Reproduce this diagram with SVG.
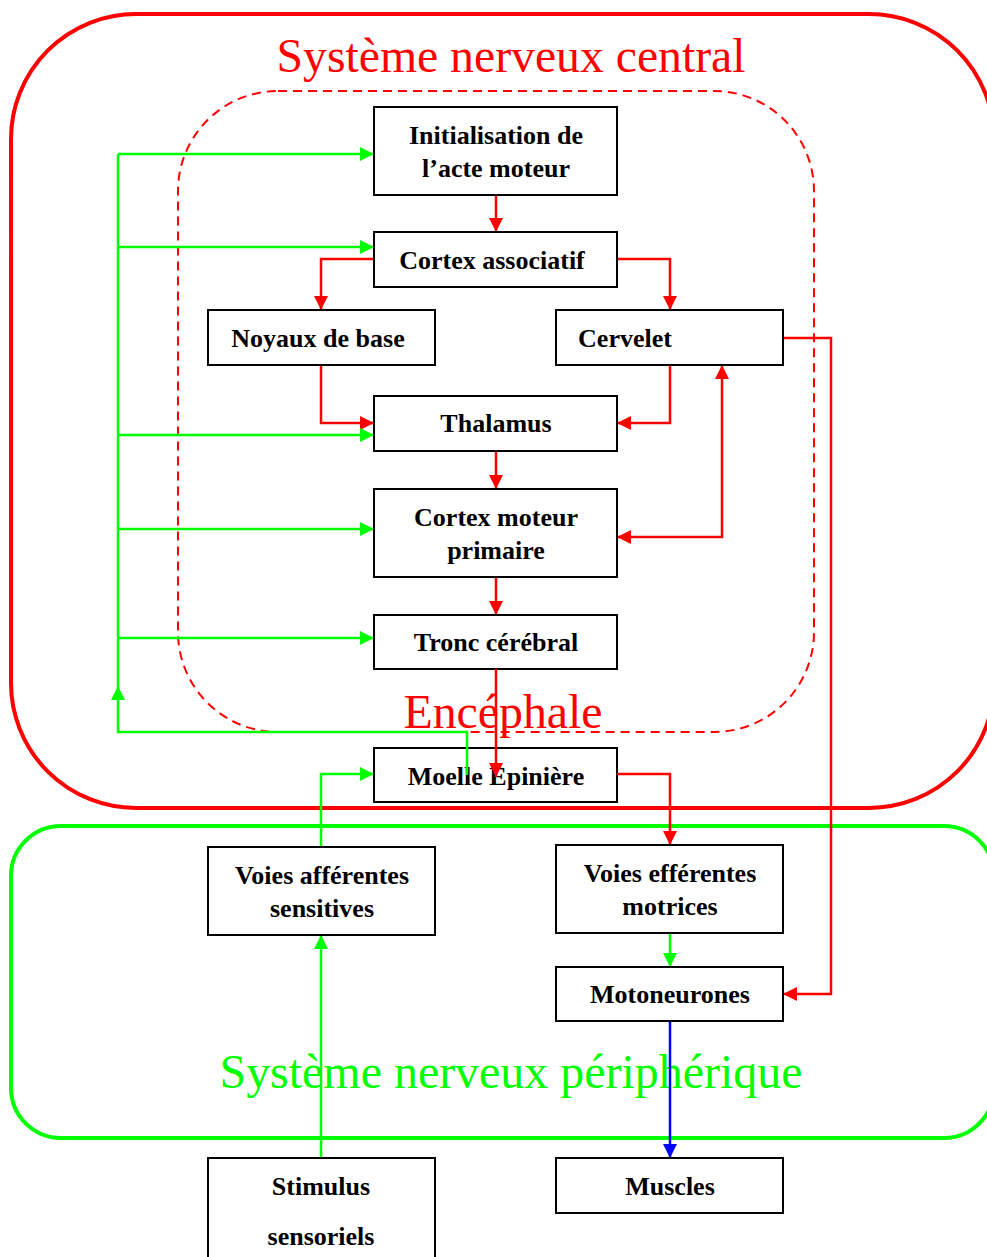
<svg xmlns="http://www.w3.org/2000/svg" width="987" height="1257" viewBox="0 0 987 1257">
<defs>
<marker id="ar" viewBox="0 0 10 10" refX="10" refY="5" markerWidth="14" markerHeight="14" markerUnits="userSpaceOnUse" orient="auto"><path d="M0,0 L10,5 L0,10 Z" fill="#ff0000"/></marker>
<marker id="ars" viewBox="0 0 10 10" refX="10" refY="5" markerWidth="14" markerHeight="14" markerUnits="userSpaceOnUse" orient="auto-start-reverse"><path d="M0,0 L10,5 L0,10 Z" fill="#ff0000"/></marker>
<marker id="ag" viewBox="0 0 10 10" refX="10" refY="5" markerWidth="14" markerHeight="14" markerUnits="userSpaceOnUse" orient="auto"><path d="M0,0 L10,5 L0,10 Z" fill="#00ff00"/></marker>
<marker id="ab" viewBox="0 0 10 10" refX="10" refY="5" markerWidth="14" markerHeight="14" markerUnits="userSpaceOnUse" orient="auto"><path d="M0,0 L10,5 L0,10 Z" fill="#0000ff"/></marker>
</defs>
<style>
.box{fill:#fff;stroke:#000;stroke-width:2}
.t{font-family:"Liberation Serif","Times New Roman",serif;font-weight:bold;font-size:26px;fill:#000;text-anchor:middle}
.r{fill:none;stroke:#ff0000;stroke-width:2.5}
.g{fill:none;stroke:#00ff00;stroke-width:2.5}
.b{fill:none;stroke:#0000ff;stroke-width:2.5}
.big{font-family:"Liberation Serif","Times New Roman",serif;font-size:48px;text-anchor:middle}
</style>
<rect width="987" height="1257" fill="#fff"/>
<g id="cns">
<rect x="11" y="14" width="983" height="794" rx="125" ry="125" fill="none" stroke="#ff0000" stroke-width="4"/>
<text class="big" x="511" y="72" fill="#ff0000" textLength="469" lengthAdjust="spacingAndGlyphs">Système nerveux central</text>
</g>
<g id="pns">
<rect x="11" y="826" width="983" height="312" rx="50" ry="50" fill="none" stroke="#00ff00" stroke-width="4"/>
<text class="big" x="511" y="1088" fill="#00ff00" textLength="583" lengthAdjust="spacingAndGlyphs">Système nerveux périphérique</text>
</g>
<g id="encephale">
<rect x="178" y="91" width="636" height="641" rx="100" ry="100" fill="none" stroke="#ff0000" stroke-width="2" stroke-dasharray="9,6"/>
<text class="big" x="503" y="728" fill="#ff0000" textLength="199" lengthAdjust="spacingAndGlyphs">Encéphale</text>
</g>
<g id="connectors">
<path class="r" d="M496,195 V232" marker-end="url(#ar)"/>
<path class="r" d="M374,259 H321 V310" marker-end="url(#ar)"/>
<path class="r" d="M617,259 H670 V310" marker-end="url(#ar)"/>
<path class="r" d="M321,365 V423 H374" marker-end="url(#ar)"/>
<path class="r" d="M670,365 V423 H617" marker-end="url(#ar)"/>
<path class="r" d="M496,451 V489" marker-end="url(#ar)"/>
<path class="r" d="M617,537 H722 V365" marker-start="url(#ars)" marker-end="url(#ar)"/>
<path class="r" d="M496,577 V615" marker-end="url(#ar)"/>
<path class="r" d="M783,338 H831 V994 H783" marker-end="url(#ar)"/>
<path class="g" d="M118,686 V154"/>
<path class="g" d="M118,154 H374" marker-end="url(#ag)"/>
<path class="g" d="M118,247 H374" marker-end="url(#ag)"/>
<path class="g" d="M118,435 H374" marker-end="url(#ag)"/>
<path class="g" d="M118,529 H374" marker-end="url(#ag)"/>
<path class="g" d="M118,638 H374" marker-end="url(#ag)"/>
<path class="g" d="M670,933 V967" marker-end="url(#ag)"/>
<path class="g" d="M321,847 V774 H374" marker-end="url(#ag)"/>
<path class="g" d="M321,1158 V935" marker-end="url(#ag)"/>
<path class="b" d="M670,1021 V1158" marker-end="url(#ab)"/>
</g>
<g id="n-init"><rect class="box" x="374" y="107" width="243" height="88"/><text class="t" x="496" y="144">Initialisation de</text><text class="t" x="496" y="177">l’acte moteur</text></g>
<g id="n-cortexassoc"><rect class="box" x="374" y="232" width="243" height="55"/><text class="t" x="492" y="269">Cortex associatif</text></g>
<g id="n-noyaux"><rect class="box" x="208" y="310" width="227" height="55"/><text class="t" x="318" y="347">Noyaux de base</text></g>
<g id="n-cervelet"><rect class="box" x="556" y="310" width="227" height="55"/><text class="t" x="625" y="347">Cervelet</text></g>
<g id="n-thalamus"><rect class="box" x="374" y="396" width="243" height="55"/><text class="t" x="496" y="432">Thalamus</text></g>
<g id="n-cortexmoteur"><rect class="box" x="374" y="489" width="243" height="88"/><text class="t" x="496" y="526">Cortex moteur</text><text class="t" x="496" y="559">primaire</text></g>
<g id="n-tronc"><rect class="box" x="374" y="615" width="243" height="54"/><text class="t" x="496" y="651">Tronc cérébral</text></g>
<g id="n-moelle"><rect class="box" x="374" y="748" width="243" height="54"/><text class="t" x="496" y="785">Moelle Épinière</text></g>
<path class="r" d="M496,669 V777" marker-end="url(#ar)"/>
<path class="g" d="M467,775 V732 H118 V686" marker-end="url(#ag)"/>
<path class="r" d="M617,774 H670 V845" marker-end="url(#ar)"/>
<g id="n-afferentes"><rect class="box" x="208" y="847" width="227" height="88"/><text class="t" x="322" y="884">Voies afférentes</text><text class="t" x="322" y="917">sensitives</text></g>
<g id="n-efferentes"><rect class="box" x="556" y="845" width="227" height="88"/><text class="t" x="670" y="882">Voies efférentes</text><text class="t" x="670" y="915">motrices</text></g>
<g id="n-motoneurones"><rect class="box" x="556" y="967" width="227" height="54"/><text class="t" x="670" y="1003">Motoneurones</text></g>
<g id="n-stimulus"><rect class="box" x="208" y="1158" width="227" height="110"/><text class="t" x="321" y="1195">Stimulus</text><text class="t" x="321" y="1245">sensoriels</text></g>
<g id="n-muscles"><rect class="box" x="556" y="1158" width="227" height="55"/><text class="t" x="670" y="1195">Muscles</text></g>
</svg>
